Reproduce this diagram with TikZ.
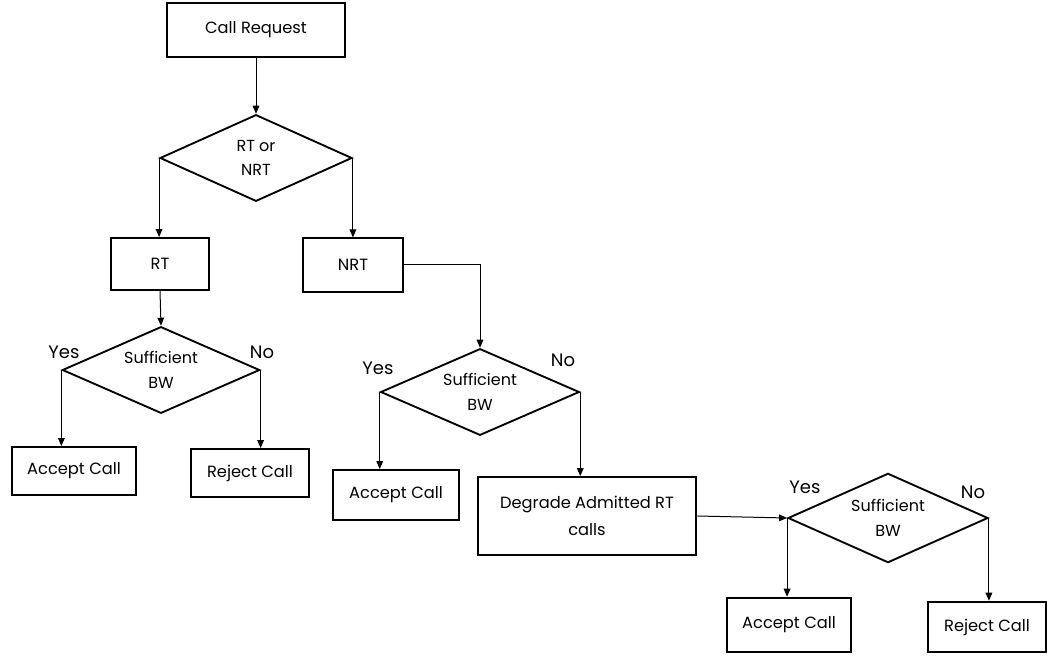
\documentclass[tikz,border=0pt]{standalone}
\usepackage{fontspec}
\setmainfont{Poppins}
\usetikzlibrary{shapes.geometric,arrows.meta}
\tikzset{
  box/.style={draw, line width=1.4pt, minimum height=#1, inner sep=0pt, align=center, font=\fontsize{12.2}{14}\selectfont},
  box/.default=37.5pt,
  decision/.style={draw, line width=1.4pt, diamond, aspect=2.25, inner sep=0pt,
    minimum width=148pt, minimum height=65pt, align=center, font=\fontsize{12}{18.5}\selectfont},
  flow/.style={line width=0.75pt, -{Triangle[length=6pt,width=5pt]}},
  answer/.style={font=\fontsize{13.5}{15}\selectfont, inner sep=0pt}
}
\begin{document}
\begin{tikzpicture}[x=0.75pt,y=-0.75pt]
\useasboundingbox (0,0) rectangle (1047,656);

% top of the chart
\node[box=40.5pt, minimum width=133pt] (req) at (256,30) {Call Request};
\node[decision, minimum width=144pt] (type) at (256,158) {RT or\\NRT};
\node[box=39pt, minimum width=74pt] (rt) at (160,264) {RT};
\node[box=40pt, minimum width=75pt] (nrt) at (353,265) {NRT};

% real-time branch
\node[decision] (bw1) at (161,370) {Sufficient\\BW};
\node[box=36pt, minimum width=93pt] (acc1) at (74,471) {Accept Call};
\node[box=36pt, minimum width=89pt] (rej1) at (250,473) {Reject Call};
\node[answer] at (64,352) {Yes};
\node[answer] at (262,352) {No};

% non-real-time branch
\node[decision, minimum width=149pt] (bw2) at (480,392) {Sufficient\\BW};
\node[box=37.5pt, minimum width=95pt] (acc2) at (396,495) {Accept Call};
\node[box=58.5pt, minimum width=164pt] (deg) at (587,516) {Degrade Admitted RT\\[6pt]calls};
\node[answer] at (378,368) {Yes};
\node[answer] at (563,360) {No};

% after degrading
\node[decision, minimum width=150pt, minimum height=67pt] (bw3) at (888,518) {Sufficient\\BW};
\node[box=41pt, minimum width=93pt] (acc3) at (789,625) {Accept Call};
\node[box=38pt, minimum width=89pt] (rej3) at (987,627) {Reject Call};
\node[answer] at (805,487) {Yes};
\node[answer] at (973,492) {No};

% connectors
\draw[flow] (req.south) -- (type.north);
\draw[flow] (type.west) -- (type.west |- rt.north);
\draw[flow] (type.east) -- (type.east |- nrt.north);
\draw[flow] (rt.south) -- (bw1.north);
\draw[flow] (bw1.west) -- (bw1.west |- acc1.north);
\draw[flow] (bw1.east) -- (bw1.east |- rej1.north);
\draw[flow] (nrt.east) -| (bw2.north);
\draw[flow] (bw2.west) -- (bw2.west |- acc2.north);
\draw[flow] (bw2.east) -- (bw2.east |- deg.north);
\draw[flow] (deg.east) -- (bw3.west);
\draw[flow] (bw3.west) -- (bw3.west |- acc3.north);
\draw[flow] (bw3.east) -- (bw3.east |- rej3.north);
\end{tikzpicture}
\end{document}
